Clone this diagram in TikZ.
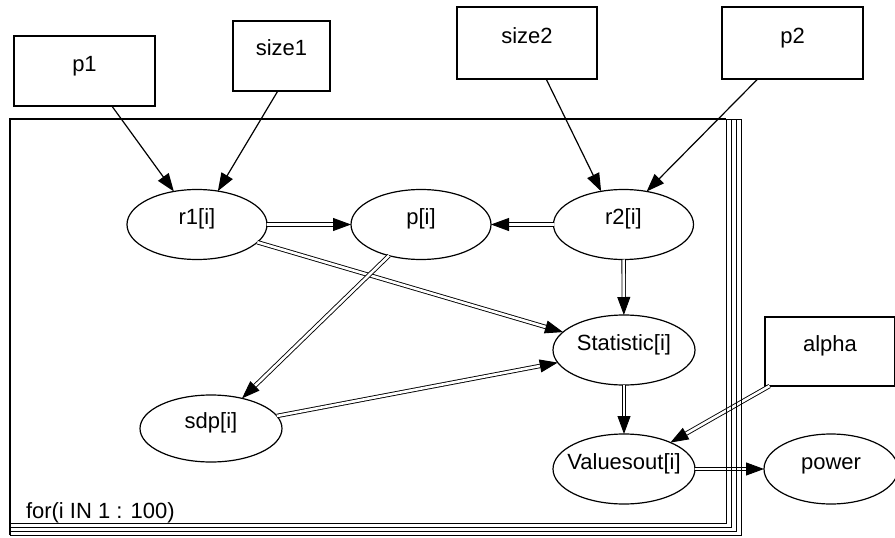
\documentclass[tikz,border=0pt]{standalone}
\usepackage{fontspec}
\setmainfont{Liberation Sans}
\usetikzlibrary{shapes.geometric,arrows.meta}
\newcommand\zwtext[1]{\makebox[0pt]{#1}}
\begin{document}
\begin{tikzpicture}[x=1pt,y=-1pt,
  every node/.style={font=\fontsize{22}{26}\selectfont, text height=8pt, text depth=8pt, inner sep=0pt, outer sep=0pt},
  ell/.style={ellipse, draw, line width=1.2pt, minimum width=140pt, minimum height=70pt},
  parbox/.style={rectangle, draw, line width=1.3pt},
  arr/.style={line width=1.2pt, -{Triangle[length=18pt,width=13pt]}},
  dbl/.style={double, double distance=2.6pt, line width=0.9pt, -{Triangle[length=18pt,width=13pt]}},
  frame/.style={line width=1pt}
]
\useasboundingbox (0,0) rectangle (895,538);
\clip (0,0) rectangle (895,538);
% parameter boxes
\node[parbox, minimum width=141pt, minimum height=70pt] (p1) at (84.5,71) {p1};
\node[parbox, minimum width=97pt, minimum height=70pt] (size1) at (281.5,56) {size1};
\node[parbox, minimum width=140pt, minimum height=72pt] (size2) at (527,43) {size2};
\node[parbox, minimum width=141pt, minimum height=72pt] (p2) at (792.5,43) {p2};
\node[parbox, minimum width=130pt, minimum height=69pt] (alpha) at (830,351.5) {alpha};
% stochastic nodes
\node[ell] (r1) at (197,224.5) {\zwtext{r1[i]}};
\node[ell] (p) at (421,224.5) {\zwtext{p[i]}};
\node[ell] (r2) at (623.5,224.5) {\zwtext{r2[i]}};
\node[ell, minimum width=142pt] (stat) at (624,350) {\zwtext{Statistic[i]}};
\node[ell, minimum width=142pt, minimum height=67pt] (sdp) at (211,428.5) {\zwtext{sdp[i]}};
\node[ell, minimum width=142pt] (vo) at (624,469) {\zwtext{Valuesout[i]}};
\node[ell, minimum width=134pt] (power) at (831,469) {\zwtext{power}};
\node[anchor=base west] (lbl) at (26,518) {for(i IN 1 : 100)};
% edges
\draw[arr] (p1.-52) -- (r1.125);
\draw[arr] (size1.-96) -- (r1.58);
\draw[arr] (size2.-62) -- (r2.124);
\draw[arr] (p2.-134.6) -- (r2.55);
\draw[dbl] (r1) -- (p);
\draw[dbl] (r2) -- (p);
\draw[dbl] (r1) -- (stat);
\draw[dbl] (p) -- (sdp);
\draw[dbl] (sdp) -- (stat);
\draw[dbl] (r2) -- (stat);
\draw[dbl] (stat) -- (vo);
\draw[dbl] (alpha) -- (vo);
\draw[dbl] (vo) -- (power);
% plate
\draw[frame] (10,119) rectangle (741.5,535);
\draw[frame] (10,119) rectangle (736,531);
\draw[frame] (10,119) rectangle (731,527);
\draw[frame] (10,119) rectangle (726,523);
\draw[line width=2.6pt] (10,535) -- (10,119) -- (726,119);
\end{tikzpicture}
\end{document}
